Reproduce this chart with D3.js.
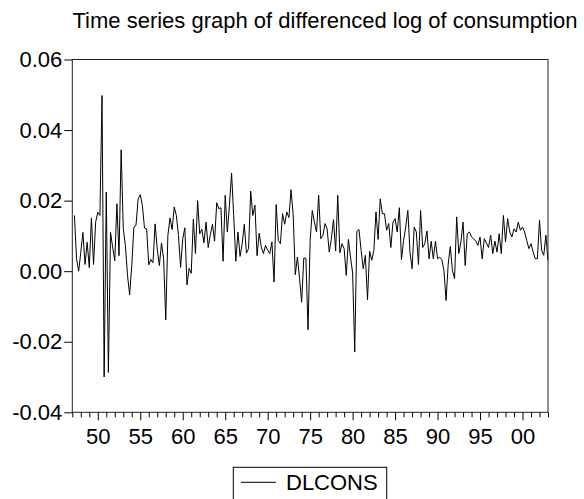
<!DOCTYPE html>
<html>
<head>
<meta charset="utf-8">
<script src="https://cdn.jsdelivr.net/npm/d3@7"></script>
<style>
  html, body { margin: 0; padding: 0; background: #fff; }
  svg { display: block; font-family: "Liberation Sans", Arial, sans-serif; }
</style>
</head>
<body>
<svg id="chart" width="584" height="499"></svg>
<script>
// ---- data: DLCONS, quarterly, first value = 1947Q2 ----
const firstPeriod = 1947.25;           // 1947Q2
const periodsPerYear = 4;
const dlcons1940s = [0.0158, 0.0035, 0.0000, 0.0054, 0.0110, 0.0019, 0.0082, 0.0010, 0.0151, 0.0019, 0.0139];
const dlcons1950s = [0.0167, 0.0158, 0.0498, -0.0300, 0.0224, -0.0287, 0.0110, 0.0068, 0.0030, 0.0191,
                     0.0044, 0.0344, 0.0120, 0.0073, -0.0012, -0.0067, 0.0016, 0.0125, 0.0130, 0.0205,
                     0.0217, 0.0186, 0.0122, 0.0120, 0.0018, 0.0033, 0.0024, 0.0134, 0.0063, 0.0016,
                     0.0080, 0.0035, -0.0138, 0.0101, 0.0151, 0.0118, 0.0182, 0.0158, 0.0101, 0.0011];
const dlcons1960s = [0.0092, 0.0123, -0.0039, 0.0008, -0.0006, 0.0147, 0.0050, 0.0200, 0.0106, 0.0119,
                     0.0080, 0.0139, 0.0067, 0.0104, 0.0133, 0.0085, 0.0194, 0.0177, 0.0180, 0.0028,
                     0.0215, 0.0111, 0.0187, 0.0278, 0.0158, 0.0028, 0.0111, 0.0042, 0.0078, 0.0133,
                     0.0051, 0.0064, 0.0227, 0.0158, 0.0187, 0.0044, 0.0108, 0.0068, 0.0050, 0.0073];
const dlcons1970s = [0.0059, 0.0050, 0.0083, -0.0031, 0.0189, 0.0087, 0.0078, 0.0163, 0.0133, 0.0168,
                     0.0152, 0.0231, 0.0160, -0.0010, 0.0040, -0.0020, -0.0088, 0.0037, 0.0037, -0.0166,
                     0.0087, 0.0172, 0.0139, 0.0111, 0.0215, 0.0092, 0.0101, 0.0135, 0.0120, 0.0054,
                     0.0092, 0.0146, 0.0057, 0.0215, 0.0052, 0.0078, 0.0064, -0.0012, 0.0090, 0.0040];
const dlcons1980s = [-0.0005, -0.0229, 0.0113, 0.0118, 0.0059, 0.0007, 0.0045, -0.0081, 0.0057, 0.0031,
                     0.0059, 0.0168, 0.0090, 0.0205, 0.0163, 0.0163, 0.0116, 0.0135, 0.0067, 0.0139,
                     0.0149, 0.0111, 0.0180, 0.0033, 0.0087, 0.0125, 0.0172, 0.0054, 0.0007, 0.0125,
                     0.0111, 0.0019, 0.0172, 0.0067, 0.0078, 0.0114, 0.0035, 0.0085, 0.0035, 0.0085];
const dlcons1990s = [0.0035, 0.0040, 0.0033, 0.0002, -0.0083, 0.0020, 0.0070, 0.0002, -0.0021, 0.0154,
                     0.0050, 0.0083, 0.0139, 0.0016, 0.0106, 0.0111, 0.0097, 0.0092, 0.0085, 0.0073,
                     0.0097, 0.0035, 0.0092, 0.0080, 0.0067, 0.0102, 0.0050, 0.0085, 0.0054, 0.0106,
                     0.0050, 0.0158, 0.0083, 0.0149, 0.0111, 0.0097, 0.0120, 0.0111, 0.0139, 0.0116];
const dlcons2000s = [0.0125, 0.0111, 0.0087, 0.0064, 0.0078, 0.0054, 0.0035, 0.0035, 0.0144, 0.0059,
                     0.0045, 0.0102, 0.0031];

const yTickValues = [-0.04, -0.02, 0.00, 0.02, 0.04, 0.06];
const majorYears = [1950, 1955, 1960, 1965, 1970, 1975, 1980, 1985, 1990, 1995, 2000];
const axisStartYear = 1947, axisEndYear = 2003;
const titleText = "Time series graph of differenced log of consumption";
const seriesName = "DLCONS";

const values = [].concat(dlcons1940s, dlcons1950s, dlcons1960s, dlcons1970s, dlcons1980s, dlcons1990s, dlcons2000s);
const data = values.map((v, i) => ({ t: firstPeriod + i / periodsPerYear, v }));

// ---- layout ----
const svg = d3.select("#chart");
const plot = { left: 72.3, right: 548, top: 59.5, bottom: 412.3 };
const FONT = 22;

const x = d3.scaleLinear().domain([axisStartYear, axisEndYear]).range([plot.left, plot.right]);
const y = d3.scaleLinear().domain([-0.04, 0.06]).range([plot.bottom, plot.top]);

// title
svg.append("text")
  .attr("x", 325).attr("y", 28)
  .attr("text-anchor", "middle")
  .attr("font-size", FONT)
  .attr("fill", "#000")
  .text(titleText);

// series line
svg.append("path")
  .datum(data)
  .attr("fill", "none")
  .attr("stroke", "#000")
  .attr("stroke-width", 1)
  .attr("stroke-linejoin", "round")
  .attr("d", d3.line().x(d => x(d.t)).y(d => y(d.v)));

// frame
svg.append("rect")
  .attr("x", plot.left).attr("y", plot.top)
  .attr("width", plot.right - plot.left).attr("height", plot.bottom - plot.top)
  .attr("fill", "none").attr("stroke", "#222").attr("stroke-width", 1);

// y axis
const yAxis = svg.append("g")
  .attr("transform", `translate(${plot.left},0)`)
  .call(d3.axisLeft(y).tickValues(yTickValues).tickSize(8).tickPadding(2)
        .tickFormat(d => d.toFixed(2)));
yAxis.select(".domain").remove();
yAxis.selectAll("text").attr("font-size", FONT).attr("font-family", "Liberation Sans, Arial, sans-serif").attr("fill", "#000");

// x axis minor ticks (every year)
const minorYears = d3.range(axisStartYear, axisEndYear + 1).filter(yr => !majorYears.includes(yr));
const xMinor = svg.append("g")
  .attr("transform", `translate(0,${plot.bottom})`)
  .call(d3.axisBottom(x).tickValues(minorYears).tickSize(5).tickFormat(""));
xMinor.select(".domain").remove();

// x axis major ticks
const xMajor = svg.append("g")
  .attr("transform", `translate(0,${plot.bottom})`)
  .call(d3.axisBottom(x).tickValues(majorYears).tickSize(8).tickPadding(8)
        .tickFormat(d => String(d % 100).padStart(2, "0")));
xMajor.select(".domain").remove();
xMajor.selectAll("text").attr("font-size", FONT).attr("font-family", "Liberation Sans, Arial, sans-serif").attr("fill", "#000");

// legend
const lg = svg.append("g");
lg.append("rect")
  .attr("x", 233.3).attr("y", 467.3).attr("width", 153.4).attr("height", 50)
  .attr("fill", "none").attr("stroke", "#000").attr("stroke-width", 1);
lg.append("line")
  .attr("x1", 241).attr("x2", 276).attr("y1", 482.3).attr("y2", 482.3)
  .attr("stroke", "#000").attr("stroke-width", 1);
lg.append("text")
  .attr("x", 286).attr("y", 489.5)
  .attr("font-size", FONT).attr("fill", "#000")
  .text(seriesName);
</script>
</body>
</html>
